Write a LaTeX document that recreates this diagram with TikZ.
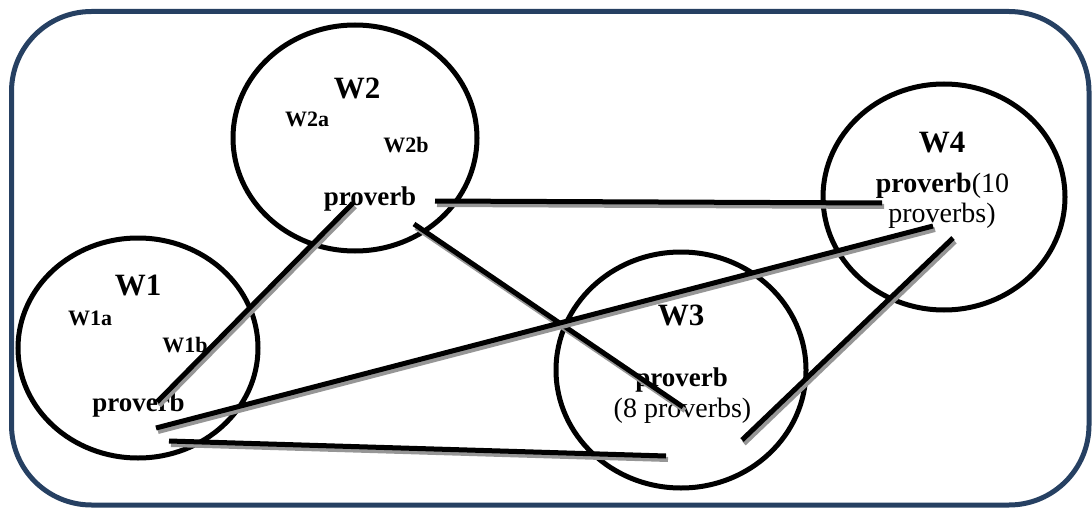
\documentclass[tikz,border=0pt]{standalone}
\usepackage{fontspec}
\setmainfont{Liberation Serif}
\usetikzlibrary{shapes.geometric}
\definecolor{frameblue}{RGB}{38,64,98}
\definecolor{shadowgray}{RGB}{150,150,150}
\tikzset{
  ring/.style={draw=black, line width=5pt, ellipse, inner sep=0pt},
  wlabel/.style={font=\fontsize{31}{35}\selectfont\bfseries, inner sep=0pt},
  sublabel/.style={font=\fontsize{22}{25}\selectfont\bfseries, inner sep=0pt},
  ptext/.style={font=\fontsize{28}{32}\selectfont, inner sep=0pt, anchor=base},
  pbold/.style={ptext, font=\fontsize{27}{31}\selectfont\bfseries},
  link/.style={line width=5pt, black},
  linkshade/.style={line width=5pt, shadowgray},
}
% a thick link with its grey drop shadow
\newcommand{\linkdraw}[2]{%
  \draw[linkshade] ([xshift=2pt,yshift=-3.5pt]#1) -- ([xshift=2pt,yshift=-3.5pt]#2);
  \draw[link] (#1) -- (#2);}
\begin{document}
\begin{tikzpicture}[x=1pt, y=-1pt]
\useasboundingbox (0,0) rectangle (1092,508);

% outer frame
\draw[frameblue, line width=5pt, rounded corners=80pt] (11.5,11.5) rectangle (1089,505);

% the four word circles
\node[ring, minimum width=240pt, minimum height=220pt] (w1) at (138,348) {};
\node[ring, minimum width=244pt, minimum height=226pt] (w2) at (355,138) {};
\node[ring, minimum width=250pt, minimum height=236pt] (w3) at (681,370) {};
\node[ring, minimum width=242pt, minimum height=226pt] (w4) at (944,197) {};

% W1
\node[wlabel] (w1t) at (138,286) {W1};
\node[sublabel] (w1a) at (90,318) {W1a};
\node[sublabel] (w1b) at (185,345) {W1b};
\node[pbold] (w1p) at (138.5,411) {proverb};

% W2
\node[wlabel] (w2t) at (357,88) {W2};
\node[sublabel] (w2a) at (307,119) {W2a};
\node[sublabel] (w2b) at (406,145) {W2b};
\node[pbold] (w2p) at (370,205) {proverb};

% W3
\node[wlabel] (w3t) at (681,315) {W3};
\node[pbold] (w3p) at (681.5,386) {proverb};
\node[ptext] (w3n) at (682.5,417) {(8 proverbs)};

% W4
\node[wlabel] (w4t) at (942,143) {W4};
\node[ptext] (w4p) at (942.5,192) {\textbf{proverb}(10};
\node[ptext] (w4n) at (942,222) {proverbs)};

% end points of the links
\coordinate (a1) at (157,402);
\coordinate (a2) at (353,203);
\coordinate (b1) at (435,201);
\coordinate (b2) at (882,203);
\coordinate (c1) at (414,224);
\coordinate (c2) at (683,407);
\coordinate (d1) at (156,428);
\coordinate (d2) at (933,226);
\coordinate (e1) at (169,441);
\coordinate (e2) at (666,456);
\coordinate (f1) at (953,238);
\coordinate (f2) at (742,440);

% links between the words
\linkdraw{a1}{a2}
\linkdraw{b1}{b2}
\linkdraw{c1}{c2}
\linkdraw{d1}{d2}
\linkdraw{e1}{e2}
\linkdraw{f1}{f2}
\end{tikzpicture}
\end{document}
